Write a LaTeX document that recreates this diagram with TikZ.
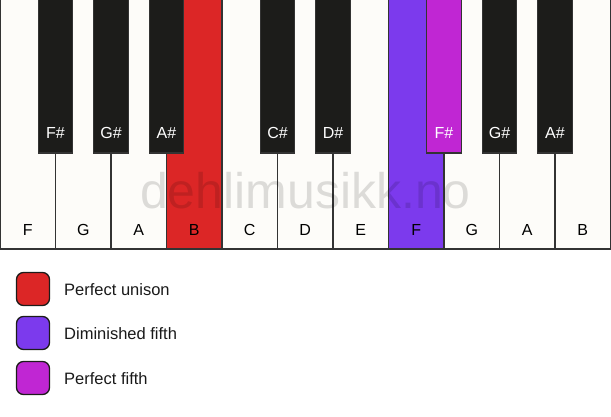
\documentclass[tikz,border=0pt]{standalone}
\usepackage{fontspec}
\setmainfont{Liberation Sans}
\usepackage{tikz}

\definecolor{keywhite}{HTML}{FDFCF9}
\definecolor{keyblack}{HTML}{1C1C1A}
\definecolor{keyedge}{HTML}{333333}
\definecolor{unisonred}{HTML}{DC2626}
\definecolor{dimviolet}{HTML}{7C3AED}
\definecolor{fifthpink}{HTML}{C026D3}

\begin{document}
\begin{tikzpicture}[x=1pt,y=-1pt]
  \tikzset{WhiteKeyStyle/.style = {
    shape         = rectangle,
    draw          = keyedge,
    fill          = keywhite,
    line width    = 1.2pt,
    inner sep     = 0pt,
    outer sep     = 0pt,
    minimum width = 55.5pt,
    minimum height= 254pt
    }
  }
  \tikzset{BlackKeyStyle/.style = {
    shape         = rectangle,
    draw          = keyedge,
    fill          = keyblack,
    line width    = 1.2pt,
    inner sep     = 0pt,
    outer sep     = 0pt,
    minimum width = 34.5pt,
    minimum height= 158pt
    }
  }
  \tikzset{WhiteLabelStyle/.style = {
    text          = black,
    inner sep     = 0pt,
    font          = \fontsize{16}{16}\selectfont
    }
  }
  \tikzset{BlackLabelStyle/.style = {
    WhiteLabelStyle,
    text          = white
    }
  }
  \tikzset{LegendBoxStyle/.style = {
    shape         = rectangle,
    draw          = keyblack,
    line width    = 1.3pt,
    rounded corners = 7pt,
    minimum size  = 33pt,
    inner sep     = 0pt
    }
  }
  \tikzset{LegendTextStyle/.style = {
    anchor        = west,
    text          = black!90,
    inner sep     = 0pt,
    font          = \fontsize{16.5}{16.5}\selectfont
    }
  }

  \useasboundingbox (0,0) rectangle (611,417);
  \begin{scope}
  \clip (0,0) rectangle (611,417);
	% white keys
	\node[WhiteKeyStyle](F1) at (27.75, 122) {};
	\node[WhiteKeyStyle](G1) at (83.25, 122) {};
	\node[WhiteKeyStyle](A1) at (138.75, 122) {};
	\node[WhiteKeyStyle, fill=unisonred](B1) at (194.25, 122) {};
	\node[WhiteKeyStyle](C2) at (249.75, 122) {};
	\node[WhiteKeyStyle](D2) at (305.25, 122) {};
	\node[WhiteKeyStyle](E2) at (360.75, 122) {};
	\node[WhiteKeyStyle, fill=dimviolet](F2) at (416.25, 122) {};
	\node[WhiteKeyStyle](G2) at (471.75, 122) {};
	\node[WhiteKeyStyle](A2) at (527.25, 122) {};
	\node[WhiteKeyStyle](B2) at (582.75, 122) {};
	% black keys
	\node[BlackKeyStyle](Fs1) at (55.5, 74) {};
	\node[BlackKeyStyle](Gs1) at (111, 74) {};
	\node[BlackKeyStyle](As1) at (166.5, 74) {};
	\node[BlackKeyStyle](Cs2) at (277.5, 74) {};
	\node[BlackKeyStyle](Ds2) at (333, 74) {};
	\node[BlackKeyStyle, fill=fifthpink](Fs2) at (444, 74) {};
	\node[BlackKeyStyle](Gs2) at (499.5, 74) {};
	\node[BlackKeyStyle](As2) at (555, 74) {};
  \end{scope}

	% watermark
	\node[anchor=base, inner sep=0pt, text=black, opacity=0.13,
	  font=\fontsize{50}{50}\selectfont](wm) at (305.5, 208) {dehlimusikk.no};

	% key names
	\node[WhiteLabelStyle](lF1) at (27.75, 230) {F};
	\node[WhiteLabelStyle](lG1) at (83.25, 230) {G};
	\node[WhiteLabelStyle](lA1) at (138.75, 230) {A};
	\node[WhiteLabelStyle](lB1) at (194.25, 230) {B};
	\node[WhiteLabelStyle](lC2) at (249.75, 230) {C};
	\node[WhiteLabelStyle](lD2) at (305.25, 230) {D};
	\node[WhiteLabelStyle](lE2) at (360.75, 230) {E};
	\node[WhiteLabelStyle](lF2) at (416.25, 230) {F};
	\node[WhiteLabelStyle](lG2) at (471.75, 230) {G};
	\node[WhiteLabelStyle](lA2) at (527.25, 230) {A};
	\node[WhiteLabelStyle](lB2) at (582.75, 230) {B};
	\node[BlackLabelStyle](lFs1) at (55.5, 133) {F\#};
	\node[BlackLabelStyle](lGs1) at (111, 133) {G\#};
	\node[BlackLabelStyle](lAs1) at (166.5, 133) {A\#};
	\node[BlackLabelStyle](lCs2) at (277.5, 133) {C\#};
	\node[BlackLabelStyle](lDs2) at (333, 133) {D\#};
	\node[BlackLabelStyle](lFs2) at (444, 133) {F\#};
	\node[BlackLabelStyle](lGs2) at (499.5, 133) {G\#};
	\node[BlackLabelStyle](lAs2) at (555, 133) {A\#};

	% legend
	\node[LegendBoxStyle, fill=unisonred](boxUnison) at (33, 289) {};
	\node[LegendBoxStyle, fill=dimviolet](boxDim) at (33, 333) {};
	\node[LegendBoxStyle, fill=fifthpink](boxFifth) at (33, 378) {};
	\node[LegendTextStyle](txtUnison) at (64, 290) {Perfect unison};
	\node[LegendTextStyle](txtDim) at (64, 334) {Diminished fifth};
	\node[LegendTextStyle](txtFifth) at (64, 379) {Perfect fifth};

  \end{tikzpicture}
\end{document}
